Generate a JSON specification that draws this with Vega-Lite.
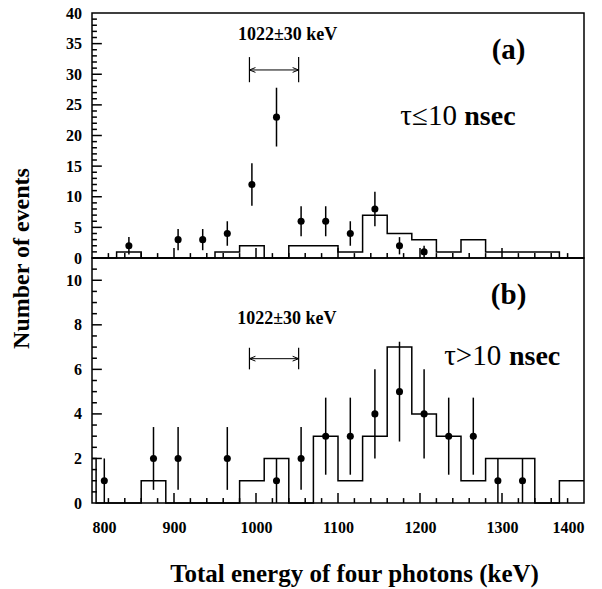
{
  "$schema": "https://vega.github.io/schema/vega-lite/v6.json",
  "padding": {"left": 8, "top": 4, "right": 5, "bottom": 5},
  "background": "white",
  "spacing": 0,
  "bounds": "flush",
  "datasets": {
    "topHist": [
      {"x": 800, "y": 0}, {"x": 830, "y": 1}, {"x": 860, "y": 0}, {"x": 950, "y": 1},
      {"x": 980, "y": 2}, {"x": 1010, "y": 0}, {"x": 1040, "y": 2}, {"x": 1070, "y": 2},
      {"x": 1100, "y": 1}, {"x": 1130, "y": 7}, {"x": 1160, "y": 4}, {"x": 1190, "y": 3},
      {"x": 1220, "y": 1}, {"x": 1250, "y": 3}, {"x": 1280, "y": 1}, {"x": 1310, "y": 1},
      {"x": 1340, "y": 1}, {"x": 1370, "y": 0}, {"x": 1400, "y": 0}
    ],
    "botHist": [
      {"x": 800, "y": 2}, {"x": 805, "y": 0}, {"x": 860, "y": 1}, {"x": 890, "y": 0},
      {"x": 980, "y": 1}, {"x": 1010, "y": 2}, {"x": 1040, "y": 0}, {"x": 1070, "y": 3},
      {"x": 1100, "y": 1}, {"x": 1130, "y": 3}, {"x": 1160, "y": 7}, {"x": 1190, "y": 4},
      {"x": 1220, "y": 3}, {"x": 1250, "y": 1}, {"x": 1280, "y": 2}, {"x": 1310, "y": 2},
      {"x": 1340, "y": 0}, {"x": 1370, "y": 1}, {"x": 1400, "y": 1}
    ],
    "topPts": [
      {"x": 845, "y": 2, "lo": 0.59, "hi": 3.41},
      {"x": 905, "y": 3, "lo": 1.27, "hi": 4.73},
      {"x": 935, "y": 3, "lo": 1.27, "hi": 4.73},
      {"x": 965, "y": 4, "lo": 2, "hi": 6},
      {"x": 995, "y": 12, "lo": 8.54, "hi": 15.46},
      {"x": 1025, "y": 23, "lo": 18.2, "hi": 27.8},
      {"x": 1055, "y": 6, "lo": 3.55, "hi": 8.45},
      {"x": 1085, "y": 6, "lo": 3.55, "hi": 8.45},
      {"x": 1115, "y": 4, "lo": 2, "hi": 6},
      {"x": 1145, "y": 8, "lo": 5.17, "hi": 10.83},
      {"x": 1175, "y": 2, "lo": 0.59, "hi": 3.41},
      {"x": 1205, "y": 1, "lo": 0, "hi": 2}
    ],
    "botPts": [
      {"x": 815, "y": 1, "lo": 0, "hi": 2},
      {"x": 875, "y": 2, "lo": 0.59, "hi": 3.41},
      {"x": 905, "y": 2, "lo": 0.59, "hi": 3.41},
      {"x": 965, "y": 2, "lo": 0.59, "hi": 3.41},
      {"x": 1025, "y": 1, "lo": 0, "hi": 2},
      {"x": 1055, "y": 2, "lo": 0.59, "hi": 3.41},
      {"x": 1085, "y": 3, "lo": 1.27, "hi": 4.73},
      {"x": 1115, "y": 3, "lo": 1.27, "hi": 4.73},
      {"x": 1145, "y": 4, "lo": 2, "hi": 6},
      {"x": 1175, "y": 5, "lo": 2.76, "hi": 7.24},
      {"x": 1205, "y": 4, "lo": 2, "hi": 6},
      {"x": 1235, "y": 3, "lo": 1.27, "hi": 4.73},
      {"x": 1265, "y": 3, "lo": 1.27, "hi": 4.73},
      {"x": 1295, "y": 1, "lo": 0, "hi": 2},
      {"x": 1325, "y": 1, "lo": 0, "hi": 2}
    ],
    "topTicks": [
      {"x0": 820, "x1": 820, "y0": 0, "y1": 0.8}, {"x0": 840, "x1": 840, "y0": 0, "y1": 0.8},
      {"x0": 860, "x1": 860, "y0": 0, "y1": 0.8}, {"x0": 880, "x1": 880, "y0": 0, "y1": 0.8},
      {"x0": 900, "x1": 900, "y0": 0, "y1": 1.63},
      {"x0": 920, "x1": 920, "y0": 0, "y1": 0.8}, {"x0": 940, "x1": 940, "y0": 0, "y1": 0.8},
      {"x0": 960, "x1": 960, "y0": 0, "y1": 0.8}, {"x0": 980, "x1": 980, "y0": 0, "y1": 0.8},
      {"x0": 1000, "x1": 1000, "y0": 0, "y1": 1.63},
      {"x0": 1020, "x1": 1020, "y0": 0, "y1": 0.8}, {"x0": 1040, "x1": 1040, "y0": 0, "y1": 0.8},
      {"x0": 1060, "x1": 1060, "y0": 0, "y1": 0.8}, {"x0": 1080, "x1": 1080, "y0": 0, "y1": 0.8},
      {"x0": 1100, "x1": 1100, "y0": 0, "y1": 1.63},
      {"x0": 1120, "x1": 1120, "y0": 0, "y1": 0.8}, {"x0": 1140, "x1": 1140, "y0": 0, "y1": 0.8},
      {"x0": 1160, "x1": 1160, "y0": 0, "y1": 0.8}, {"x0": 1180, "x1": 1180, "y0": 0, "y1": 0.8},
      {"x0": 1200, "x1": 1200, "y0": 0, "y1": 1.63},
      {"x0": 1220, "x1": 1220, "y0": 0, "y1": 0.8}, {"x0": 1240, "x1": 1240, "y0": 0, "y1": 0.8},
      {"x0": 1260, "x1": 1260, "y0": 0, "y1": 0.8}, {"x0": 1280, "x1": 1280, "y0": 0, "y1": 0.8},
      {"x0": 1300, "x1": 1300, "y0": 0, "y1": 1.63},
      {"x0": 1320, "x1": 1320, "y0": 0, "y1": 0.8}, {"x0": 1340, "x1": 1340, "y0": 0, "y1": 0.8},
      {"x0": 1360, "x1": 1360, "y0": 0, "y1": 0.8}, {"x0": 1380, "x1": 1380, "y0": 0, "y1": 0.8},
      {"x0": 800, "x1": 806, "y0": 1, "y1": 1}, {"x0": 800, "x1": 806, "y0": 2, "y1": 2},
      {"x0": 800, "x1": 806, "y0": 3, "y1": 3}, {"x0": 800, "x1": 806, "y0": 4, "y1": 4},
      {"x0": 800, "x1": 812, "y0": 5, "y1": 5},
      {"x0": 800, "x1": 806, "y0": 6, "y1": 6}, {"x0": 800, "x1": 806, "y0": 7, "y1": 7},
      {"x0": 800, "x1": 806, "y0": 8, "y1": 8}, {"x0": 800, "x1": 806, "y0": 9, "y1": 9},
      {"x0": 800, "x1": 812, "y0": 10, "y1": 10},
      {"x0": 800, "x1": 806, "y0": 11, "y1": 11}, {"x0": 800, "x1": 806, "y0": 12, "y1": 12},
      {"x0": 800, "x1": 806, "y0": 13, "y1": 13}, {"x0": 800, "x1": 806, "y0": 14, "y1": 14},
      {"x0": 800, "x1": 812, "y0": 15, "y1": 15},
      {"x0": 800, "x1": 806, "y0": 16, "y1": 16}, {"x0": 800, "x1": 806, "y0": 17, "y1": 17},
      {"x0": 800, "x1": 806, "y0": 18, "y1": 18}, {"x0": 800, "x1": 806, "y0": 19, "y1": 19},
      {"x0": 800, "x1": 812, "y0": 20, "y1": 20},
      {"x0": 800, "x1": 806, "y0": 21, "y1": 21}, {"x0": 800, "x1": 806, "y0": 22, "y1": 22},
      {"x0": 800, "x1": 806, "y0": 23, "y1": 23}, {"x0": 800, "x1": 806, "y0": 24, "y1": 24},
      {"x0": 800, "x1": 812, "y0": 25, "y1": 25},
      {"x0": 800, "x1": 806, "y0": 26, "y1": 26}, {"x0": 800, "x1": 806, "y0": 27, "y1": 27},
      {"x0": 800, "x1": 806, "y0": 28, "y1": 28}, {"x0": 800, "x1": 806, "y0": 29, "y1": 29},
      {"x0": 800, "x1": 812, "y0": 30, "y1": 30},
      {"x0": 800, "x1": 806, "y0": 31, "y1": 31}, {"x0": 800, "x1": 806, "y0": 32, "y1": 32},
      {"x0": 800, "x1": 806, "y0": 33, "y1": 33}, {"x0": 800, "x1": 806, "y0": 34, "y1": 34},
      {"x0": 800, "x1": 812, "y0": 35, "y1": 35},
      {"x0": 800, "x1": 806, "y0": 36, "y1": 36}, {"x0": 800, "x1": 806, "y0": 37, "y1": 37},
      {"x0": 800, "x1": 806, "y0": 38, "y1": 38}, {"x0": 800, "x1": 806, "y0": 39, "y1": 39}
    ],
    "botTicks": [
      {"x0": 820, "x1": 820, "y0": 0, "y1": 0.22}, {"x0": 840, "x1": 840, "y0": 0, "y1": 0.22},
      {"x0": 860, "x1": 860, "y0": 0, "y1": 0.22}, {"x0": 880, "x1": 880, "y0": 0, "y1": 0.22},
      {"x0": 900, "x1": 900, "y0": 0, "y1": 0.45},
      {"x0": 920, "x1": 920, "y0": 0, "y1": 0.22}, {"x0": 940, "x1": 940, "y0": 0, "y1": 0.22},
      {"x0": 960, "x1": 960, "y0": 0, "y1": 0.22}, {"x0": 980, "x1": 980, "y0": 0, "y1": 0.22},
      {"x0": 1000, "x1": 1000, "y0": 0, "y1": 0.45},
      {"x0": 1020, "x1": 1020, "y0": 0, "y1": 0.22}, {"x0": 1040, "x1": 1040, "y0": 0, "y1": 0.22},
      {"x0": 1060, "x1": 1060, "y0": 0, "y1": 0.22}, {"x0": 1080, "x1": 1080, "y0": 0, "y1": 0.22},
      {"x0": 1100, "x1": 1100, "y0": 0, "y1": 0.45},
      {"x0": 1120, "x1": 1120, "y0": 0, "y1": 0.22}, {"x0": 1140, "x1": 1140, "y0": 0, "y1": 0.22},
      {"x0": 1160, "x1": 1160, "y0": 0, "y1": 0.22}, {"x0": 1180, "x1": 1180, "y0": 0, "y1": 0.22},
      {"x0": 1200, "x1": 1200, "y0": 0, "y1": 0.45},
      {"x0": 1220, "x1": 1220, "y0": 0, "y1": 0.22}, {"x0": 1240, "x1": 1240, "y0": 0, "y1": 0.22},
      {"x0": 1260, "x1": 1260, "y0": 0, "y1": 0.22}, {"x0": 1280, "x1": 1280, "y0": 0, "y1": 0.22},
      {"x0": 1300, "x1": 1300, "y0": 0, "y1": 0.45},
      {"x0": 1320, "x1": 1320, "y0": 0, "y1": 0.22}, {"x0": 1340, "x1": 1340, "y0": 0, "y1": 0.22},
      {"x0": 1360, "x1": 1360, "y0": 0, "y1": 0.22}, {"x0": 1380, "x1": 1380, "y0": 0, "y1": 0.22},
      {"x0": 800, "x1": 806, "y0": 0.5, "y1": 0.5}, {"x0": 800, "x1": 806, "y0": 1, "y1": 1},
      {"x0": 800, "x1": 806, "y0": 1.5, "y1": 1.5}, {"x0": 800, "x1": 812, "y0": 2, "y1": 2},
      {"x0": 800, "x1": 806, "y0": 2.5, "y1": 2.5}, {"x0": 800, "x1": 806, "y0": 3, "y1": 3},
      {"x0": 800, "x1": 806, "y0": 3.5, "y1": 3.5}, {"x0": 800, "x1": 812, "y0": 4, "y1": 4},
      {"x0": 800, "x1": 806, "y0": 4.5, "y1": 4.5}, {"x0": 800, "x1": 806, "y0": 5, "y1": 5},
      {"x0": 800, "x1": 806, "y0": 5.5, "y1": 5.5}, {"x0": 800, "x1": 812, "y0": 6, "y1": 6},
      {"x0": 800, "x1": 806, "y0": 6.5, "y1": 6.5}, {"x0": 800, "x1": 806, "y0": 7, "y1": 7},
      {"x0": 800, "x1": 806, "y0": 7.5, "y1": 7.5}, {"x0": 800, "x1": 812, "y0": 8, "y1": 8},
      {"x0": 800, "x1": 806, "y0": 8.5, "y1": 8.5}, {"x0": 800, "x1": 806, "y0": 9, "y1": 9},
      {"x0": 800, "x1": 806, "y0": 9.5, "y1": 9.5}, {"x0": 800, "x1": 812, "y0": 10, "y1": 10},
      {"x0": 800, "x1": 806, "y0": 10.5, "y1": 10.5}
    ],
    "topArrow": [{"x": 992, "x2": 1052, "y": 30.7}],
    "topEnds": [
      {"x": 992, "y": 30.7, "lo": 28.7, "hi": 32.8, "dir": "L"},
      {"x": 1052, "y": 30.7, "lo": 28.7, "hi": 32.8, "dir": "R"}
    ],
    "botArrow": [{"x": 992, "x2": 1052, "y": 6.48}],
    "botEnds": [
      {"x": 992, "y": 6.48, "lo": 6.0, "hi": 6.97, "dir": "L"},
      {"x": 1052, "y": 6.48, "lo": 6.0, "hi": 6.97, "dir": "R"}
    ],
    "topRange": [{"x": 1038.5, "y": 36.4, "t": "1022±30 keV"}],
    "topPanel": [{"x": 1308, "y": 34, "t": "(a)"}],
    "topSym": [{"x": 1245, "y": 21.7, "t": "τ≤10"}],
    "topUnit": [{"x": 1254, "y": 21.7, "t": "nsec"}],
    "botRange": [{"x": 1037.6, "y": 8.28, "t": "1022±30 keV"}],
    "botPanel": [{"x": 1308, "y": 9.34, "t": "(b)"}],
    "botSym": [{"x": 1299, "y": 6.18, "t": "τ>10"}],
    "botUnit": [{"x": 1308.5, "y": 6.18, "t": "nsec"}]
  },
  "vconcat": [
    {
      "width": 492,
      "height": 245,
      "resolve": {"axis": {"x": "independent", "y": "independent"}},
      "layer": [
        {
          "data": {"name": "topHist"},
          "mark": {"type": "line", "interpolate": "step-after", "color": "black", "strokeWidth": 1.5},
          "encoding": {
            "x": {"field": "x", "type": "quantitative", "scale": {"domain": [800, 1400], "nice": false, "zero": false},
              "axis": {"orient": "bottom", "title": null, "labels": false, "domain": false, "ticks": false, "values": [800]}},
            "y": {"field": "y", "type": "quantitative", "scale": {"domain": [0, 40], "nice": false},
              "axis": {"orient": "left", "title": "Number of events", "domain": false, "ticks": false, "tickSize": 0,
                "values": [0, 5, 10, 15, 20, 25, 30, 35, 40], "format": "d", "labelOverlap": false,
                "labelPadding": 10.5,
                "titleX": -71, "titleY": 245, "titleAngle": -90, "titleAlign": "center", "titleBaseline": "middle",
                "titleFontSize": 24}}
          }
        },
        {
          "data": {"name": "topTicks"},
          "mark": {"type": "rule", "color": "black", "strokeWidth": 1.5},
          "encoding": {
            "x": {"field": "x0", "type": "quantitative", "axis": null},
            "x2": {"field": "x1"},
            "y": {"field": "y0", "type": "quantitative", "axis": null},
            "y2": {"field": "y1"}
          }
        },
        {
          "data": {"name": "topPts"},
          "mark": {"type": "rule", "color": "black", "strokeWidth": 1.5},
          "encoding": {
            "x": {"field": "x", "type": "quantitative", "axis": null},
            "y": {"field": "lo", "type": "quantitative", "axis": null},
            "y2": {"field": "hi"}
          }
        },
        {
          "data": {"name": "topPts"},
          "mark": {"type": "circle", "color": "black", "opacity": 1, "size": 50},
          "encoding": {
            "x": {"field": "x", "type": "quantitative", "axis": null},
            "y": {"field": "y", "type": "quantitative", "axis": null}
          }
        },
        {
          "data": {"name": "topArrow"},
          "mark": {"type": "rule", "color": "black", "strokeWidth": 1},
          "encoding": {
            "x": {"field": "x", "type": "quantitative", "axis": null},
            "x2": {"field": "x2"},
            "y": {"field": "y", "type": "quantitative", "axis": null}
          }
        },
        {
          "data": {"name": "topEnds"},
          "mark": {"type": "rule", "color": "black", "strokeWidth": 1.2},
          "encoding": {
            "x": {"field": "x", "type": "quantitative", "axis": null},
            "y": {"field": "lo", "type": "quantitative", "axis": null},
            "y2": {"field": "hi"}
          }
        },
        {
          "data": {"name": "topEnds"},
          "mark": {"type": "point", "filled": false, "color": "black", "strokeWidth": 1, "size": 36, "opacity": 1},
          "encoding": {
            "x": {"field": "x", "type": "quantitative", "axis": null},
            "y": {"field": "y", "type": "quantitative", "axis": null},
            "shape": {"field": "dir", "type": "nominal", "legend": null,
              "scale": {"domain": ["L", "R"], "range": ["M2,-0.8L0,0L2,0.8", "M-2,-0.8L0,0L-2,0.8"]}}
          }
        },
        {
          "data": {"name": "topRange"},
          "mark": {"type": "text", "font": "Liberation Serif", "fontWeight": "bold", "fontSize": 18, "align": "center", "baseline": "middle", "color": "black"},
          "encoding": {
            "x": {"field": "x", "type": "quantitative", "axis": null},
            "y": {"field": "y", "type": "quantitative", "axis": null},
            "text": {"field": "t"}
          }
        },
        {
          "data": {"name": "topPanel"},
          "mark": {"type": "text", "font": "Liberation Serif", "fontWeight": "bold", "fontSize": 29, "align": "center", "baseline": "middle", "color": "black"},
          "encoding": {
            "x": {"field": "x", "type": "quantitative", "axis": null},
            "y": {"field": "y", "type": "quantitative", "axis": null},
            "text": {"field": "t"}
          }
        },
        {
          "data": {"name": "topSym"},
          "mark": {"type": "text", "font": "Liberation Serif", "fontWeight": "normal", "fontSize": 29, "align": "right", "baseline": "alphabetic", "color": "black"},
          "encoding": {
            "x": {"field": "x", "type": "quantitative", "axis": null},
            "y": {"field": "y", "type": "quantitative", "axis": null},
            "text": {"field": "t"}
          }
        },
        {
          "data": {"name": "topUnit"},
          "mark": {"type": "text", "font": "Liberation Serif", "fontWeight": "bold", "fontSize": 28, "align": "left", "baseline": "alphabetic", "color": "black"},
          "encoding": {
            "x": {"field": "x", "type": "quantitative", "axis": null},
            "y": {"field": "y", "type": "quantitative", "axis": null},
            "text": {"field": "t"}
          }
        }
      ]
    },
    {
      "width": 492,
      "height": 245,
      "resolve": {"axis": {"x": "independent", "y": "independent"}},
      "layer": [
        {
          "data": {"name": "botHist"},
          "mark": {"type": "line", "interpolate": "step-after", "color": "black", "strokeWidth": 1.5},
          "encoding": {
            "x": {"field": "x", "type": "quantitative", "scale": {"domain": [800, 1400], "nice": false, "zero": false},
              "axis": {"orient": "bottom", "title": "Total energy of four photons (keV)", "domain": false, "ticks": false, "tickSize": 0,
                "values": [800, 900, 1000, 1100, 1200, 1300, 1400], "format": "d", "labelOverlap": false,
                "labelPadding": 16, "titlePadding": 26, "titleFontSize": 25, "titleX": 262}},
            "y": {"field": "y", "type": "quantitative", "scale": {"domain": [0, 11], "nice": false},
              "axis": {"orient": "left", "title": null, "domain": false, "ticks": false, "tickSize": 0,
                "values": [0, 2, 4, 6, 8, 10], "format": "d", "labelOverlap": false,
                "labelPadding": 10.5}}
          }
        },
        {
          "data": {"name": "botTicks"},
          "mark": {"type": "rule", "color": "black", "strokeWidth": 1.5},
          "encoding": {
            "x": {"field": "x0", "type": "quantitative", "axis": null},
            "x2": {"field": "x1"},
            "y": {"field": "y0", "type": "quantitative", "axis": null},
            "y2": {"field": "y1"}
          }
        },
        {
          "data": {"name": "botPts"},
          "mark": {"type": "rule", "color": "black", "strokeWidth": 1.5},
          "encoding": {
            "x": {"field": "x", "type": "quantitative", "axis": null},
            "y": {"field": "lo", "type": "quantitative", "axis": null},
            "y2": {"field": "hi"}
          }
        },
        {
          "data": {"name": "botPts"},
          "mark": {"type": "circle", "color": "black", "opacity": 1, "size": 50},
          "encoding": {
            "x": {"field": "x", "type": "quantitative", "axis": null},
            "y": {"field": "y", "type": "quantitative", "axis": null}
          }
        },
        {
          "data": {"name": "botArrow"},
          "mark": {"type": "rule", "color": "black", "strokeWidth": 1},
          "encoding": {
            "x": {"field": "x", "type": "quantitative", "axis": null},
            "x2": {"field": "x2"},
            "y": {"field": "y", "type": "quantitative", "axis": null}
          }
        },
        {
          "data": {"name": "botEnds"},
          "mark": {"type": "rule", "color": "black", "strokeWidth": 1.2},
          "encoding": {
            "x": {"field": "x", "type": "quantitative", "axis": null},
            "y": {"field": "lo", "type": "quantitative", "axis": null},
            "y2": {"field": "hi"}
          }
        },
        {
          "data": {"name": "botEnds"},
          "mark": {"type": "point", "filled": false, "color": "black", "strokeWidth": 1, "size": 36, "opacity": 1},
          "encoding": {
            "x": {"field": "x", "type": "quantitative", "axis": null},
            "y": {"field": "y", "type": "quantitative", "axis": null},
            "shape": {"field": "dir", "type": "nominal", "legend": null,
              "scale": {"domain": ["L", "R"], "range": ["M2,-0.8L0,0L2,0.8", "M-2,-0.8L0,0L-2,0.8"]}}
          }
        },
        {
          "data": {"name": "botRange"},
          "mark": {"type": "text", "font": "Liberation Serif", "fontWeight": "bold", "fontSize": 18, "align": "center", "baseline": "middle", "color": "black"},
          "encoding": {
            "x": {"field": "x", "type": "quantitative", "axis": null},
            "y": {"field": "y", "type": "quantitative", "axis": null},
            "text": {"field": "t"}
          }
        },
        {
          "data": {"name": "botPanel"},
          "mark": {"type": "text", "font": "Liberation Serif", "fontWeight": "bold", "fontSize": 29, "align": "center", "baseline": "middle", "color": "black"},
          "encoding": {
            "x": {"field": "x", "type": "quantitative", "axis": null},
            "y": {"field": "y", "type": "quantitative", "axis": null},
            "text": {"field": "t"}
          }
        },
        {
          "data": {"name": "botSym"},
          "mark": {"type": "text", "font": "Liberation Serif", "fontWeight": "normal", "fontSize": 29, "align": "right", "baseline": "alphabetic", "color": "black"},
          "encoding": {
            "x": {"field": "x", "type": "quantitative", "axis": null},
            "y": {"field": "y", "type": "quantitative", "axis": null},
            "text": {"field": "t"}
          }
        },
        {
          "data": {"name": "botUnit"},
          "mark": {"type": "text", "font": "Liberation Serif", "fontWeight": "bold", "fontSize": 28, "align": "left", "baseline": "alphabetic", "color": "black"},
          "encoding": {
            "x": {"field": "x", "type": "quantitative", "axis": null},
            "y": {"field": "y", "type": "quantitative", "axis": null},
            "text": {"field": "t"}
          }
        }
      ]
    }
  ],
  "config": {
    "view": {"stroke": "black", "strokeWidth": 1.5},
    "font": "Liberation Serif",
    "axis": {
      "grid": false,
      "labelFont": "Liberation Serif", "labelFontWeight": "bold", "labelFontSize": 16, "labelColor": "black",
      "titleFont": "Liberation Serif", "titleFontWeight": "bold", "titleColor": "black",
      "tickColor": "black", "domainColor": "black"
    }
  }
}
